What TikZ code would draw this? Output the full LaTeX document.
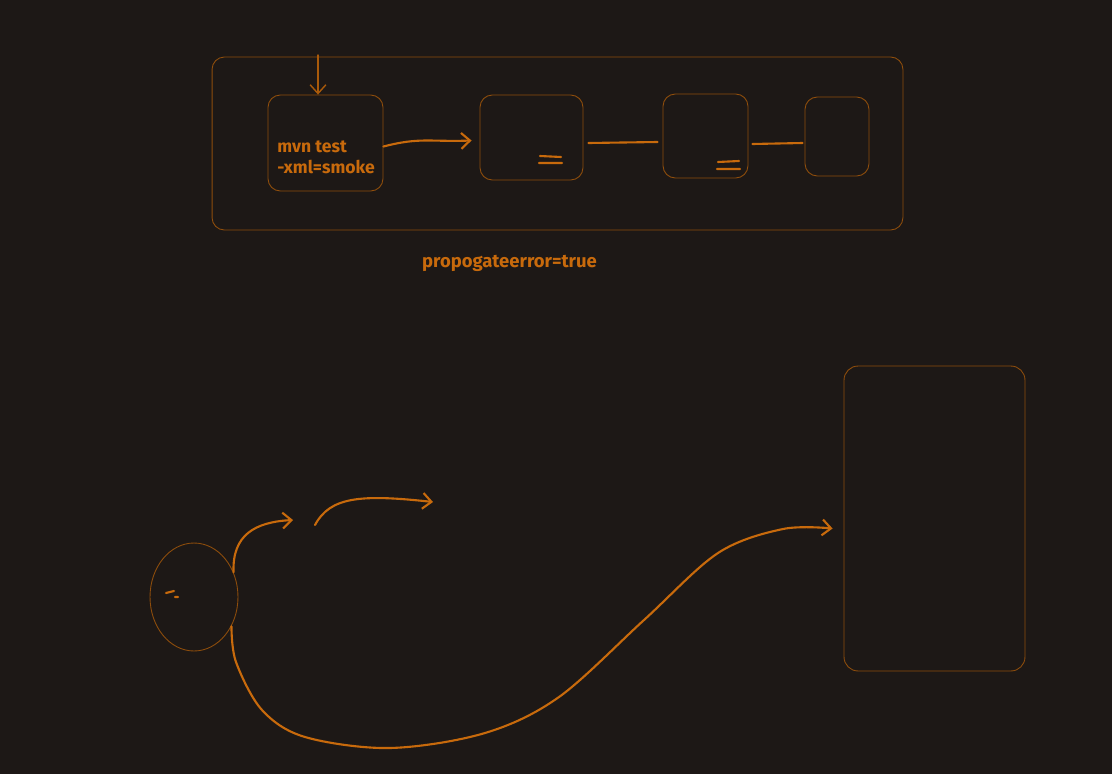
\documentclass[tikz,border=0pt]{standalone}
\usepackage{fontspec}
\setmainfont{Fira Sans}
\usetikzlibrary{arrows.meta,shapes.geometric}
\definecolor{bgdark}{HTML}{1D1816}
\definecolor{rust}{HTML}{C86A0C}
\definecolor{rustdim}{HTML}{8E4D0C}
\begin{document}
\begin{tikzpicture}[x=0.02cm,y=-0.02cm,
    box/.style={draw=rustdim, line width=0.5pt, rounded corners=7pt, inner sep=0pt},
    stroke/.style={draw=rust, line width=1.2pt, line cap=round},
    >={Straight Barb[length=5pt,width=9pt]}]
                \fill[bgdark] (0,0) rectangle (1112,774);
                \useasboundingbox (0,0) rectangle (1112,774);

                \node[box, minimum width=13.82cm, minimum height=3.46cm] (stage) at (557.5,143.5) {};
                \node[box, minimum width=2.3cm, minimum height=1.92cm] (smoke) at (325.5,143) {};
                \node[box, minimum width=2.06cm, minimum height=1.7cm] (stepa) at (531.5,137.5) {};
                \node[box, minimum width=1.7cm, minimum height=1.68cm] (stepb) at (705.5,136) {};
                \node[box, minimum width=1.28cm, minimum height=1.58cm] (stepc) at (837,136.5) {};
                \node[anchor=west, align=left, text=rust, font=\bfseries, inner sep=0pt] (cmd) at (277,157.5) {mvn test\\[0pt]-xml=smoke};
                \node[text=rust, font=\fontsize{10.5}{12}\selectfont\bfseries, inner sep=0pt] (flag) at (509.5,263) {propogateerror=true};

                \coordinate (entry) at (318,55);
                \draw[stroke, draw=rust!85!black, line width=0.8pt, ->] (entry) -- (entry |- smoke.north);
                \draw[stroke, ->] ([yshift=-2pt]smoke.east) .. controls (420,137) and (430,142) .. ([shift={(-8,3)}]stepa.west);
                \draw[stroke] ([shift={(5,5.5)}]stepa.east) -- ([shift={(-5,6)}]stepb.west);
                \draw[stroke] ([shift={(4,8)}]stepb.east) -- ([shift={(-2,6.5)}]stepc.west);
                \draw[stroke] (540,156) -- (561,157) (539,163) -- (562,163);
                \draw[stroke] (718,162) -- (739,161) (717,169) -- (740,169);

                \node[draw=rustdim, line width=0.5pt, ellipse, minimum width=1.76cm, minimum height=2.16cm, inner sep=0pt] (head) at (194,597) {};
                \draw[stroke] (166,593) -- (174,591) (175,597) -- (178,597);
                \node[box, rounded corners=8pt, minimum width=3.62cm, minimum height=6.1cm] (sink) at (934.5,518.5) {};

                \coordinate (up) at (293,520);
                \coordinate (curlstart) at (315,525);
                \coordinate (curlend) at (433,502);
                \draw[stroke, ->] (head.32) .. controls (232,535) and (255,522) .. (up);
                \draw[stroke, ->] (curlstart) .. controls (330,497) and (360,494) .. (curlend);
                \draw[stroke, ->] plot[smooth, tension=0.55] coordinates {(head.-38) (236,662) (262,710) (305,737) (390,748) (485,733) (559,697) (644,620) (718,553) (783,529) ([shift={(-11,10)}]sink.west)};
            \end{tikzpicture}
\end{document}
